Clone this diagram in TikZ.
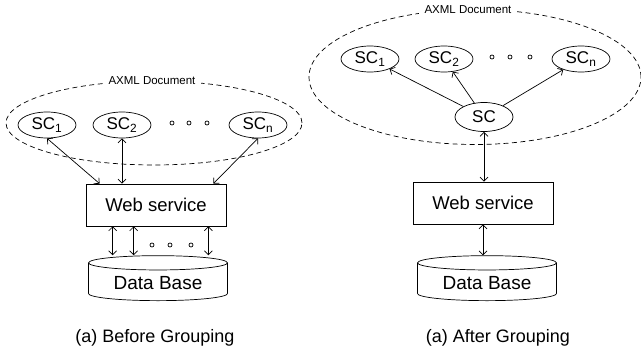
\documentclass[tikz,border=0pt]{standalone}
\usepackage{fontspec}
\setmainfont{Liberation Sans}
\usetikzlibrary{positioning}
\usetikzlibrary{shapes.geometric}
\usetikzlibrary{arrows.meta}

\tikzset{
  sc/.style={ellipse, draw, inner sep=0pt, minimum width=58pt, minimum height=26pt,
    font=\fontsize{17}{17}\selectfont},
  wsbox/.style={rectangle, draw, minimum width=140pt, minimum height=42pt,
    font=\fontsize{18.5}{18.5}\selectfont},
  dbase/.style={cylinder, shape border rotate=90, draw, aspect=0.15,
    minimum width=139pt, minimum height=45pt, font=\fontsize{19}{19}\selectfont},
  docbox/.style={ellipse, draw, dash pattern=on 5pt off 3.5pt, inner sep=0pt},
  doclabel/.style={fill=white, inner xsep=6pt, inner ysep=1pt,
    font=\fontsize{11.5}{12}\selectfont},
  caption/.style={font=\fontsize{18}{18}\selectfont},
}

\begin{document}
\begin{tikzpicture}[x=1pt,y=-1pt,line width=0.7pt,
    >={Straight Barb[length=4pt,width=8pt]}]
\useasboundingbox (0,0) rectangle (641,353);

% before grouping
\node[docbox, minimum width=296pt, minimum height=84pt] (doc1) at (154,123) {};
\node[doclabel, xshift=-2pt] (lab1) at (doc1.north) {AXML Document};
\node[sc] (sc11) at (47,125)  {SC\textsubscript{1}};
\node[sc] (sc12) at (122,125) {SC\textsubscript{2}};
\node[sc] (sc1n) at (258,125) {SC\textsubscript{n}};
\foreach \x in {172,189,207} \draw (\x,123) circle (2pt);

\node[wsbox] (ws1) at (156,205) {Web service};
\node[dbase] (db1) at (158,283) {Data Base};

\draw[<->] (sc11.south) -- ([xshift=14pt]ws1.north west);
\draw[<->] (sc12.south) -- (sc12.south |- ws1.north);
\draw[<->] (sc1n.south) -- ([xshift=-13pt]ws1.north east);
\foreach \dx in {27,48} \draw[<->] ([xshift=\dx pt]ws1.south west) -- ([xshift=\dx pt]ws1.south west |- db1.north);
\draw[<->] ([xshift=-18pt]ws1.south east) -- ([xshift=-18pt]ws1.south east |- db1.north);
\foreach \x in {152,170,191} \draw (\x,245) circle (2pt);

\node[caption] (cap1) at (155,338) {(a) Before Grouping};

% after grouping
\node[docbox, minimum width=332pt, minimum height=135pt] (doc2) at (475,77) {};
\node[doclabel, xshift=-7pt] (lab2) at (doc2.north) {AXML Document};
\node[sc] (sc21) at (370,59) {SC\textsubscript{1}};
\node[sc] (sc22) at (444,59) {SC\textsubscript{2}};
\node[sc] (sc2n) at (581,59) {SC\textsubscript{n}};
\node[sc, minimum height=29pt] (sc2) at (484,117) {SC};
\foreach \x in {492,510,530} \draw (\x,57) circle (2pt);

\node[wsbox] (ws2) at (483,203) {Web service};
\node[dbase] (db2) at (487,283) {Data Base};

\draw[->] (sc2) -- (sc21);
\draw[->] (sc2) -- (sc22);
\draw[->] (sc2) -- (sc2n);
\draw[<->] (sc2.south) -- (sc2.south |- ws2.north);
\draw[<->] (ws2.south) -- (ws2.south |- db2.north);

\node[caption] (cap2) at (498,338) {(a) After Grouping};
\end{tikzpicture}
\end{document}
